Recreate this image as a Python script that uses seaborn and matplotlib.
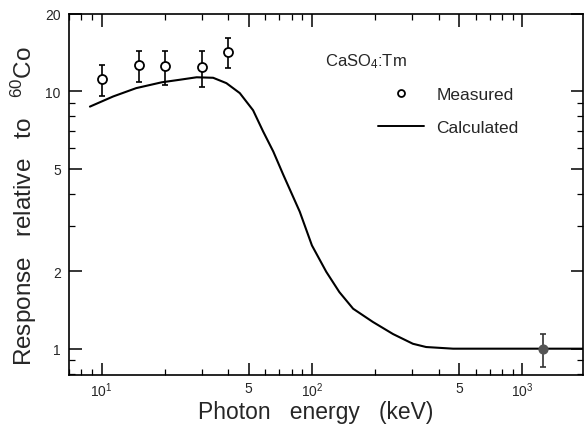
import numpy as np
import pandas as pd
import matplotlib
matplotlib.use("Agg")
import matplotlib.pyplot as plt
import seaborn as sns
from matplotlib.ticker import FixedLocator, FixedFormatter, NullFormatter, LogLocator
from matplotlib.lines import Line2D

# ---- data ----
calc_energy = [8.8, 11.35, 14.6, 19.3, 23.5, 28.3, 33.9, 39.2, 45.4, 52.5, 58.6,
               65.5, 73.1, 87.5, 100, 117, 135, 157, 195, 243, 302, 349, 469,
               700, 1000, 2000]
calc_resp = [8.73, 9.56, 10.3, 10.85, 11.1, 11.35, 11.3, 10.77, 9.85, 8.45, 6.99,
             5.84, 4.74, 3.41, 2.52, 1.99, 1.66, 1.43, 1.27, 1.14, 1.045, 1.015,
             1.0, 1.0, 1.0, 1.0]

meas_energy = [10, 15, 20, 30, 40]
meas_resp = [11.2, 12.7, 12.5, 12.4, 14.2]
meas_lo = [9.6, 10.9, 10.6, 10.4, 12.3]
meas_hi = [12.7, 14.4, 14.3, 14.3, 16.2]

co_energy = [1250]
co_resp = [1.0]
co_lo = [0.85]
co_hi = [1.14]

xtick_vals = [10, 50, 100, 500, 1000]
xtick_labels = ["10$^{1}$", "5", "10$^{2}$", "5", "10$^{3}$"]
ytick_vals = [1, 2, 5, 10, 20]
ytick_labels = ["1", "2", "5", "10", "20"]

# ---- style ----
sns.set_style("ticks")
plt.rcParams["font.family"] = ["Liberation Sans", "DejaVu Sans"]
plt.rcParams["mathtext.fontset"] = "custom"
plt.rcParams["mathtext.rm"] = "Liberation Sans"
plt.rcParams["mathtext.it"] = "Liberation Sans"

fig = plt.figure(figsize=(5.85, 4.27), dpi=100)
ax = fig.add_axes([0.118, 0.1194, 0.879, 0.8455])

calc_df = pd.DataFrame({"E": calc_energy, "R": calc_resp})
sns.lineplot(data=calc_df, x="E", y="R", ax=ax, color="black", lw=1.5,
             sort=False, estimator=None)

meas = pd.DataFrame({"E": meas_energy, "R": meas_resp, "lo": meas_lo, "hi": meas_hi})
ax.errorbar(meas["E"], meas["R"],
            yerr=[meas["R"] - meas["lo"], meas["hi"] - meas["R"]],
            fmt="none", ecolor="black", elinewidth=1.2, capsize=2.5, capthick=1.2,
            zorder=3)
sns.scatterplot(data=meas, x="E", y="R", ax=ax, marker="o", s=42,
                facecolor="white", edgecolor="black", linewidth=1.3, zorder=4)

co = pd.DataFrame({"E": co_energy, "R": co_resp, "lo": co_lo, "hi": co_hi})
ax.errorbar(co["E"], co["R"],
            yerr=[co["R"] - co["lo"], co["hi"] - co["R"]],
            fmt="none", ecolor="#333333", elinewidth=1.2, capsize=2.5, capthick=1.2,
            zorder=3)
sns.scatterplot(data=co, x="E", y="R", ax=ax, marker="o", s=40,
                color="#555555", edgecolor="#555555", linewidth=1.0, zorder=4)

ax.set_xscale("log")
ax.set_yscale("log")
ax.set_xlim(7.0, 1950)
ax.set_ylim(0.79, 20)

ax.xaxis.set_major_locator(FixedLocator(xtick_vals))
ax.xaxis.set_major_formatter(FixedFormatter(xtick_labels))
ax.yaxis.set_major_locator(FixedLocator(ytick_vals))
ax.yaxis.set_major_formatter(FixedFormatter(ytick_labels))
ax.xaxis.set_minor_locator(LogLocator(base=10, subs=(2, 3, 4, 6, 7, 8, 9), numticks=20))
ax.yaxis.set_minor_locator(LogLocator(base=10, subs=(3, 4, 6, 7, 8, 9), numticks=20))
ax.xaxis.set_minor_formatter(NullFormatter())
ax.yaxis.set_minor_formatter(NullFormatter())

ax.tick_params(which="both", direction="in", top=True, right=True, color="black")
ax.tick_params(which="major", length=9, width=1.1, labelsize=10, pad=6)
ax.tick_params(axis="x", which="major", pad=4)
ax.tick_params(which="minor", length=4.5, width=0.9)
for sp in ax.spines.values():
    sp.set_linewidth(1.2)
    sp.set_color("black")

ax.set_xlabel("Photon   energy   (keV)", fontsize=16.5)
ax.set_ylabel("Response   relative   to   $^{60}$Co", fontsize=17.5)
ax.xaxis.set_label_coords(0.48, -0.07)
ax.yaxis.set_label_coords(-0.058, 0.47)

ax.text(0.497, 0.87, "CaSO$_{4}$:Tm", transform=ax.transAxes, fontsize=12,
        ha="left", va="center")
handles = [Line2D([], [], marker="o", ls="none", mfc="white", mec="black",
                  ms=5, mew=1.3, label="Measured"),
           Line2D([], [], color="black", lw=1.4, label="Calculated")]
ax.legend(handles=handles, loc="upper left", bbox_to_anchor=(0.6, 0.797),
          frameon=False, fontsize=12.5, handlelength=2.7, handletextpad=0.7,
          labelspacing=1.0, borderpad=0, borderaxespad=0)

fig.savefig("out.png", dpi=100)
